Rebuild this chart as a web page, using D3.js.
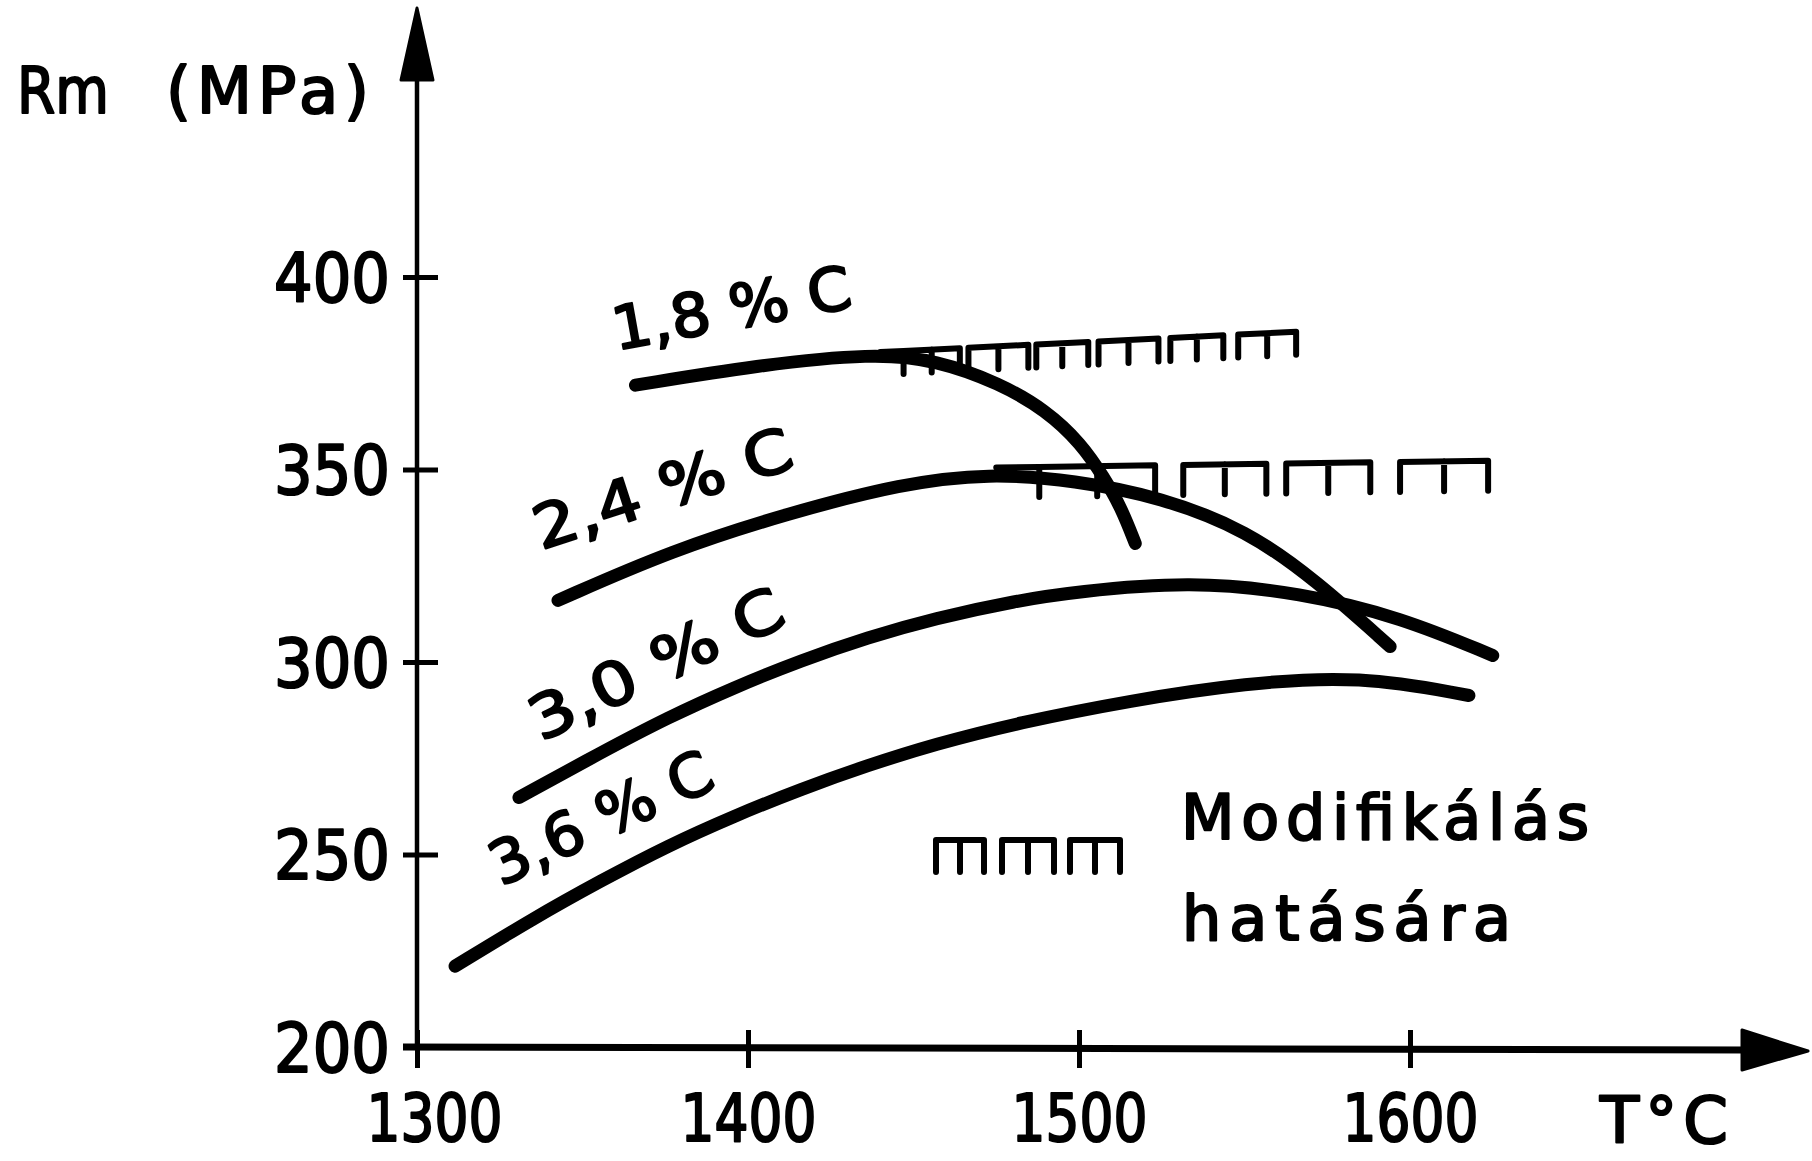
<!DOCTYPE html>
<html><head><meta charset="utf-8">
<script src="https://cdn.jsdelivr.net/npm/d3@7"></script>
<style>
html,body{margin:0;padding:0;background:#fff;}
svg{display:block;background:#fff;}
text{font-family:'DejaVu Sans','Liberation Sans',sans-serif;fill:#000;stroke:#000;stroke-width:2.2px;stroke-linejoin:round;}
</style>
</head><body>
<svg id="chart" width="1812" height="1161"></svg>
<script>
// ---- data (T in °C, Rm in MPa) ----
const xTicks = [1300, 1400, 1500, 1600];
const yTicks = [200, 250, 300, 350, 400];
const seriesNames = ["1,8 % C", "2,4 % C", "3,0 % C", "3,6 % C"];
const c18 = [[1366,371.9],[1403,377.1],[1438,380.2],[1457,378.4],[1476,372.4],[1490,365.4],[1500.6,356.8],[1507.5,348],[1512.7,340.2],[1517,330.8]];
const c24 = [[1342.6,316],[1377,329],[1412,338.6],[1446.8,346.4],[1472.8,349],[1498.8,347.2],[1524.8,342.8],[1550.8,334.2],[1571.6,321.2],[1594,304]];
const c30 = [[1330.8,264.8],[1355.6,276.5],[1375.8,285.6],[1395.8,293.4],[1416,300.4],[1436.3,306.4],[1456.2,311.3],[1481.6,316.0],[1498.8,318.2],[1533.5,321],[1567,318],[1597.3,311.6],[1625,301.7]];
const c36 = [[1311.5,221],[1335.3,233.5],[1355.6,243.2],[1375.8,252.3],[1395.8,260.0],[1416,267.0],[1436.3,273.2],[1456.2,278.6],[1481.6,284.2],[1515.6,290],[1550,294.5],[1585,296.5],[1617.8,291.3]];
// modification level lines: start point, end point, "m" groups [T from, T to]
const hatch18From = [1440, 380.5], hatch18To = [1566, 385.8];
const hatch18Groups = [[1447,1464],[1466.6,1484.7],[1487.1,1502.8],[1505.9,1524],[1527.6,1543.6],[1548.1,1565.6]];
const hatch24From = [1475, 350.5], hatch24To = [1623.6, 352.3];
const hatch24Groups = [[1488,1523],[1531.5,1556.6],[1562.6,1588],[1597,1623.6]];
// label anchors (T, Rm) and angle
const labelAnchors = [[1360.1,381.0],[1337.5,329.1],[1337.5,279.2],[1325.4,241.6]];
const labelAngles = [-10.2, -18, -25.6, -24.7];
const labelLengths = [242, 269, 275, 239];
const noteLines = ["Modifikálás", "hatására"];

// ---- drawing ----
const svg = d3.select("#chart");
svg.append("rect").attr("width",1812).attr("height",1161).attr("fill","#fff");
const x = d3.scaleLinear().domain([1300,1600]).range([417,1410]);
const y = d3.scaleLinear().domain([200,400]).range([1047,277]);
const x0 = x(1300), y0 = y(200);

// y axis
const gy = svg.append("g").attr("transform",`translate(${x0},0)`)
  .call(d3.axisLeft(y).tickValues(yTicks).tickSize(0).tickPadding(0));
gy.select(".domain").remove();
gy.selectAll(".tick line").attr("x1",-14).attr("x2",21).attr("stroke","#000").attr("stroke-width",5);
gy.selectAll(".tick text").attr("x",-27).attr("dy",null).attr("y",24)
  .attr("font-size",68).attr("font-family","'DejaVu Sans',sans-serif")
  .attr("textLength",116).attr("lengthAdjust","spacingAndGlyphs").attr("text-anchor","end");

// x axis
const gx = svg.append("g").attr("transform",`translate(0,${y0})`)
  .call(d3.axisBottom(x).tickValues(xTicks).tickSize(0).tickPadding(0).tickFormat(d3.format("d")));
gx.select(".domain").remove();
gx.selectAll(".tick line").attr("y1",-17).attr("y2",21).attr("stroke","#000").attr("stroke-width",5);
gx.selectAll(".tick text").attr("y",94).attr("dy",null)
  .attr("dx",d => d===1300 ? 17 : 0)
  .attr("font-size",66).attr("font-family","'DejaVu Sans',sans-serif")
  .attr("textLength",136).attr("lengthAdjust","spacingAndGlyphs").attr("text-anchor","middle");

// axis lines + arrows
svg.append("line").attr("x1",x0).attr("x2",x0).attr("y1",y0+2).attr("y2",76)
  .attr("stroke","#000").attr("stroke-width",4.5);
svg.append("path").attr("d",`M${x0},8 L${x0+16},80 L${x0-16},80 Z`)
  .attr("fill","#000").attr("stroke","#000").attr("stroke-width",3).attr("stroke-linejoin","round");
svg.append("line").attr("x1",x0-14).attr("x2",1748).attr("y1",y0).attr("y2",y0+3)
  .attr("stroke","#000").attr("stroke-width",7);
svg.append("path").attr("d",`M1808,${y0+4} L1742,${y0-17} L1742,${y0+23} Z`)
  .attr("fill","#000").attr("stroke","#000").attr("stroke-width",3).attr("stroke-linejoin","round");

// curves
const line = d3.line().x(d=>x(d[0])).y(d=>y(d[1])).curve(d3.curveBasis);
[c18,c24,c30,c36].forEach(c=>{
  svg.append("path").attr("d",line(c)).attr("fill","none").attr("stroke","#000")
    .attr("stroke-width",13).attr("stroke-linecap","round").attr("stroke-linejoin","round");
});

// modification hatch
function hatch(from,to,groups,leg){
  const top = t => y(from[1] + (to[1]-from[1])*(t-from[0])/(to[0]-from[0]));
  let d = `M${x(from[0])},${y(from[1])} L${x(groups[0][0])},${top(groups[0][0])}`;
  groups.forEach(([a,b])=>{
    const m=(a+b)/2;
    d += ` M${x(a)},${top(a)+leg} L${x(a)},${top(a)} L${x(b)},${top(b)} L${x(b)},${top(b)+leg}`;
    d += ` M${x(m)},${top(m)} L${x(m)},${top(m)+leg}`;
  });
  svg.append("path").attr("d",d).attr("fill","none").attr("stroke","#000")
    .attr("stroke-width",6).attr("stroke-linecap","round").attr("stroke-linejoin","round");
}
hatch(hatch18From,hatch18To,hatch18Groups,23);
hatch(hatch24From,hatch24To,hatch24Groups,30);

// curve labels
seriesNames.forEach((s,i)=>{
  const px = x(labelAnchors[i][0]), py = y(labelAnchors[i][1]);
  svg.append("text").attr("x",px).attr("y",py).text(s)
    .attr("font-size",60).attr("textLength",labelLengths[i]).attr("lengthAdjust","spacingAndGlyphs")
    .attr("transform",`rotate(${labelAngles[i]},${px},${py})`);
});

// axis titles
const yt = svg.append("text").attr("y",113).attr("font-size",64);
yt.append("tspan").attr("x",17).attr("textLength",92).attr("lengthAdjust","spacingAndGlyphs").text("Rm");
yt.append("tspan").attr("x",166).attr("textLength",203).attr("lengthAdjust","spacing").text("(MPa)");
svg.append("text").attr("x",1600).attr("y",1143).attr("font-size",64)
  .attr("textLength",128).attr("lengthAdjust","spacing").text("T°C");

// legend
const lg = [[936,984],[1002,1054],[1070,1120]], lTop=840, lLeg=32;
let ld="";
lg.forEach(([a,b])=>{const m=(a+b)/2;
  ld+=`M${a},${lTop+lLeg} L${a},${lTop} L${b},${lTop} L${b},${lTop+lLeg} M${m},${lTop} L${m},${lTop+lLeg} `;});
svg.append("path").attr("d",ld).attr("fill","none").attr("stroke","#000").attr("stroke-width",6)
  .attr("stroke-linecap","round").attr("stroke-linejoin","round");
svg.append("text").attr("x",1181).attr("y",839).attr("font-size",62)
  .attr("textLength",408).attr("lengthAdjust","spacing").text(noteLines[0]);
svg.append("text").attr("x",1182).attr("y",940).attr("font-size",62)
  .attr("textLength",329).attr("lengthAdjust","spacing").text(noteLines[1]);
</script>
</body></html>
